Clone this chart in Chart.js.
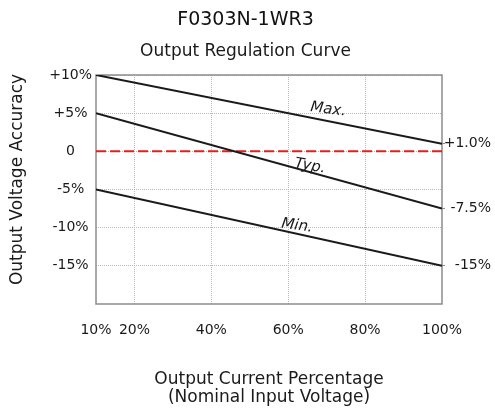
<!DOCTYPE html>
<html>
<head>
<meta charset="utf-8">
<title>F0303N-1WR3 Output Regulation Curve</title>
<script src="https://cdn.jsdelivr.net/npm/chart.js@4.4.1/dist/chart.umd.min.js"></script>
<style>
  html, body { margin: 0; padding: 0; background: #fff; }
  #wrap { width: 495px; height: 410px; }
</style>
</head>
<body>
<div id="wrap"><canvas id="regChart" width="495" height="410"></canvas></div>
<script>
// Output regulation curve for F0303N-1WR3

// load points, % of rated output current
const loadPoints = [10, 100];

// output voltage accuracy (%) at each load point
const maxAccuracy = [10, 1];
const typAccuracy = [5, -7.5];
const minAccuracy = [-5, -15];
const zeroLine = [0, 0];

// ticks
const xTickValues = [10, 20, 40, 60, 80, 100];
const yTickValues = [10, 5, 0, -5, -10, -15];
const yTickLabels = ['+10%', '+5%', '0', '-5%', '-10%', '-15%'];
const endTickValues = [1, -7.5, -15];
const endTickLabels = ['+1.0%', '-7.5%', '-15%'];

const seriesNames = ['Max.', 'Typ.', 'Min.'];

// where the curve names sit: x value along the curve, gap above it in px
const curveLabelStyle = [
    { at: 70, gap: 7.5 },
    { at: 65.4, gap: 2 },
    { at: 62, gap: 4 }
];

const FONT = "'DejaVu Sans', sans-serif";
const TEXT_COLOR = '#1a1a1a';
const GRID_COLOR = '#b8b8b8';

Chart.defaults.font.family = FONT;
Chart.defaults.color = TEXT_COLOR;

function toPoints(values) {
    return loadPoints.map((x, i) => ({ x: x, y: values[i] }));
}

function curveDataset(values) {
    return {
        data: toPoints(values),
        borderColor: '#1a1a1a',
        borderWidth: 2,
        pointRadius: 0,
        tension: 0
    };
}

// Frame round the plot area
const framePlugin = {
    id: 'frame',
    beforeDatasetsDraw(chart) {
        const a = chart.chartArea;
        const ctx = chart.ctx;
        ctx.save();
        ctx.strokeStyle = '#8c8c8c';
        ctx.lineWidth = 1.5;
        ctx.strokeRect(a.left, a.top, a.right - a.left, a.bottom - a.top);
        ctx.restore();
    }
};

// Vertical axis title (sits a little above the plot centre)
const yTitlePlugin = {
    id: 'yTitle',
    afterDraw(chart) {
        const a = chart.chartArea;
        const ctx = chart.ctx;
        ctx.save();
        ctx.translate(18, (a.top + a.bottom) / 2 - 10);
        ctx.rotate(-Math.PI / 2);
        ctx.font = '17px ' + FONT;
        ctx.fillStyle = TEXT_COLOR;
        ctx.textAlign = 'center';
        ctx.textBaseline = 'middle';
        ctx.fillText('Output Voltage Accuracy', 0, 0);
        ctx.restore();
    }
};

// Max. / Typ. / Min. names written along their curves
const curveLabelPlugin = {
    id: 'curveLabels',
    afterDatasetsDraw(chart) {
        const xs = chart.scales.x;
        const ys = chart.scales.y;
        const ctx = chart.ctx;
        const series = [maxAccuracy, typAccuracy, minAccuracy];

        series.forEach((values, i) => {
            const style = curveLabelStyle[i];
            const x0 = loadPoints[0], x1 = loadPoints[1];
            const yv = values[0] + (values[1] - values[0]) * (style.at - x0) / (x1 - x0);
            const px = xs.getPixelForValue(style.at);
            const py = ys.getPixelForValue(yv);
            const dx = xs.getPixelForValue(x1) - xs.getPixelForValue(x0);
            const dy = ys.getPixelForValue(values[1]) - ys.getPixelForValue(values[0]);
            const angle = Math.atan2(dy, dx) * 0.65;

            ctx.save();
            ctx.translate(px, py);
            ctx.rotate(angle);
            ctx.font = 'italic 15px ' + FONT;
            ctx.fillStyle = TEXT_COLOR;
            ctx.textAlign = 'center';
            ctx.textBaseline = 'alphabetic';
            ctx.fillText(seriesNames[i], 0, -style.gap);
            ctx.restore();
        });
    }
};

const chart = new Chart(document.getElementById('regChart'), {
    type: 'line',
    data: {
        datasets: [
            curveDataset(maxAccuracy),
            curveDataset(typAccuracy),
            curveDataset(minAccuracy),
            {
                data: toPoints(zeroLine),
                borderColor: '#e0201f',
                borderWidth: 2,
                borderDash: [10, 4],
                pointRadius: 0
            }
        ]
    },
    options: {
        responsive: false,
        animation: false,
        layout: {
            padding: { left: 0, right: 4, top: 0, bottom: 0 }
        },
        plugins: {
            legend: { display: false },
            tooltip: { enabled: false },
            title: {
                display: true,
                text: 'F0303N-1WR3',
                color: '#111',
                font: { size: 19, weight: 'normal', lineHeight: 1.2 },
                padding: { top: 9, bottom: 10 }
            },
            subtitle: {
                display: true,
                text: 'Output Regulation Curve',
                color: TEXT_COLOR,
                font: { size: 17, weight: 'normal', lineHeight: 1.2 },
                padding: { top: 0, bottom: 12.8 }
            }
        },
        scales: {
            x: {
                type: 'linear',
                min: 10,
                max: 100,
                afterBuildTicks: scale => {
                    scale.ticks = xTickValues.map(v => ({ value: v }));
                },
                afterFit: scale => { scale.height = 106; },
                ticks: {
                    callback: v => v + '%',
                    font: { size: 14 },
                    padding: 17.6,
                    maxRotation: 0,
                    autoSkip: false
                },
                grid: {
                    color: ctx => (ctx.tick && (ctx.tick.value === 10 || ctx.tick.value === 100))
                        ? 'rgba(0,0,0,0)' : GRID_COLOR,
                    lineWidth: 1,
                    drawTicks: false
                },
                border: { display: false, dash: [1, 1] },
                title: {
                    display: true,
                    text: ['Output Current Percentage', '(Nominal Input Voltage)'],
                    font: { size: 17, lineHeight: 1.05 },
                    padding: { top: 0, bottom: 3.6 }
                }
            },
            y: {
                type: 'linear',
                position: 'left',
                min: -20,
                max: 10,
                afterBuildTicks: scale => {
                    scale.ticks = yTickValues.map(v => ({ value: v }));
                },
                afterFit: scale => { scale.width = 96; },
                ticks: {
                    callback: v => yTickLabels[yTickValues.indexOf(v)],
                    font: { size: 14 },
                    padding: 4,
                    crossAlign: 'center'
                },
                grid: {
                    color: GRID_COLOR,
                    lineWidth: 1,
                    drawTicks: false
                },
                border: { display: false, dash: [1, 1] }
            },
            yEnd: {
                type: 'linear',
                position: 'right',
                min: -20,
                max: 10,
                afterBuildTicks: scale => {
                    scale.ticks = endTickValues.map(v => ({ value: v }));
                },
                afterFit: scale => { scale.width = 49; },
                ticks: {
                    callback: v => endTickLabels[endTickValues.indexOf(v)],
                    font: { size: 14 },
                    crossAlign: 'far'
                },
                grid: {
                    drawOnChartArea: false,
                    drawTicks: true,
                    tickLength: 3,
                    color: '#8c8c8c'
                },
                border: { display: false }
            }
        }
    },
    plugins: [framePlugin, yTitlePlugin, curveLabelPlugin]
});
</script>
</body>
</html>
